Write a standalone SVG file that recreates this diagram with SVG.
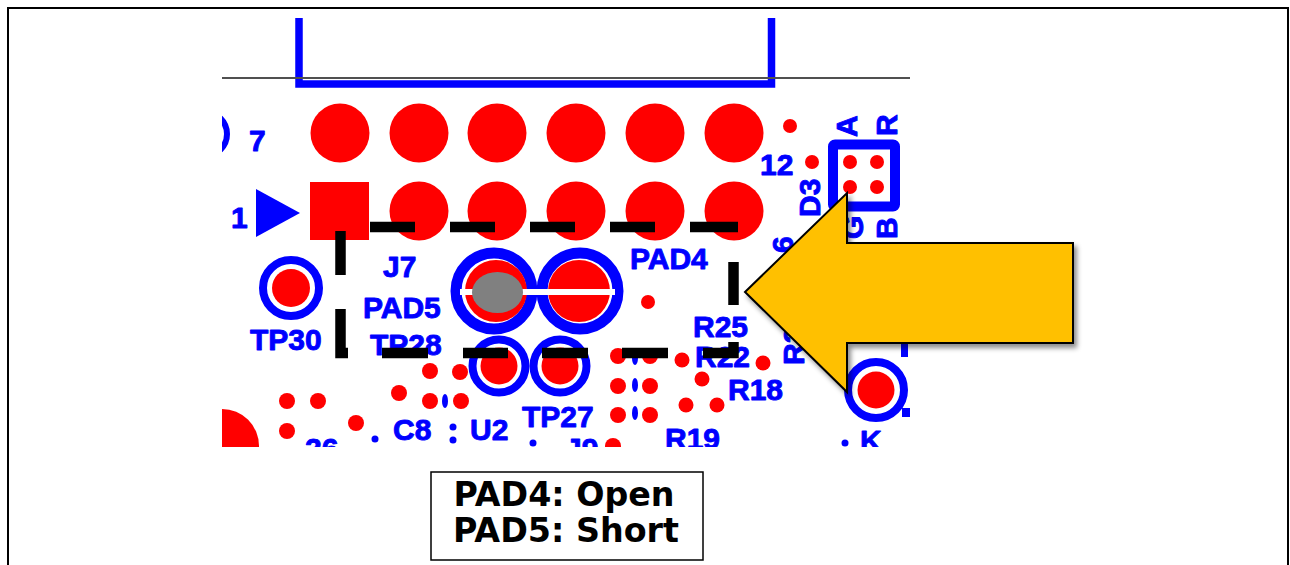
<svg xmlns="http://www.w3.org/2000/svg" width="1290" height="565" viewBox="0 0 1290 565">
<defs>
<style>
.b{fill:#0000FF}
.r{fill:#FF0000}
.ring{fill:none;stroke:#0000FF}
.lbl{font-family:"Liberation Sans",Arial,sans-serif;font-weight:bold;font-size:30px;fill:#0000FF;stroke:#0000FF;stroke-width:0.9;stroke-linejoin:round}
.dash{fill:none;stroke:#000;stroke-width:10.5;stroke-linecap:butt;stroke-linejoin:miter}
.note{font-family:"DejaVu Sans",sans-serif;font-weight:bold;font-size:33px;fill:#000}
</style>
<clipPath id="clip"><rect x="222" y="18" width="688" height="429"/></clipPath>
<filter id="sh" x="-10%" y="-10%" width="130%" height="130%">
<feDropShadow dx="3" dy="4" stdDeviation="2.5" flood-color="#000" flood-opacity="0.45"/>
</filter>
</defs>
<rect x="0" y="0" width="1290" height="565" fill="#fff"/>
<rect id="frame" x="8" y="8" width="1280" height="580" fill="none" stroke="#000" stroke-width="2"/>

<g id="pcb" clip-path="url(#clip)">
  <g id="connector-J7">
    <path d="M299,18 V84 H771.5 V18" fill="none" stroke="#0000FF" stroke-width="7.5"/>
    <line x1="222" y1="78" x2="910" y2="78" stroke="#505050" stroke-width="2"/>
    <circle cx="340" cy="133" r="29.5" class="r"/>
    <circle cx="419" cy="133" r="29.5" class="r"/>
    <circle cx="497" cy="133" r="29.5" class="r"/>
    <circle cx="576" cy="133" r="29.5" class="r"/>
    <circle cx="655" cy="133" r="29.5" class="r"/>
    <circle cx="734" cy="133" r="29.5" class="r"/>
    <rect x="310" y="182" width="59" height="58" class="r"/>
    <circle cx="419" cy="211" r="29.5" class="r"/>
    <circle cx="497" cy="211" r="29.5" class="r"/>
    <circle cx="576" cy="211" r="29.5" class="r"/>
    <circle cx="655" cy="211" r="29.5" class="r"/>
    <circle cx="734" cy="211" r="29.5" class="r"/>
    <polygon points="256,189 256,237 300,213" class="b"/>
    <circle cx="205" cy="134" r="22" class="ring" stroke-width="6"/>
    <text x="249" y="151" class="lbl" font-size="33">7</text>
    <text x="231" y="228" class="lbl" font-size="33">1</text>
    <text x="760" y="175" class="lbl">12</text>
    <text class="lbl" font-size="32" transform="translate(793,253) rotate(-90)">6</text>
    <text x="383" y="277" class="lbl">J7</text>
  </g>

  <g id="tp30">
    <circle cx="291" cy="288" r="28" class="ring" stroke-width="8"/>
    <circle cx="291" cy="288" r="19" class="r"/>
    <text x="250" y="350" class="lbl">TP30</text>
  </g>

  <g id="pad5-pad4">
    <circle cx="494" cy="291" r="38" class="ring" stroke-width="11"/>
    <circle cx="580" cy="291" r="38" class="ring" stroke-width="11"/>
    <circle cx="496" cy="291" r="31" class="r"/>
    <circle cx="579" cy="291" r="31" class="r"/>
    <rect x="460" y="289" width="155" height="6" fill="#fff"/>
    <ellipse cx="497.5" cy="292.5" rx="25.5" ry="20.5" fill="#808080"/>
    <text x="363" y="318" class="lbl">PAD5</text>
    <text x="630" y="269" class="lbl">PAD4</text>
  </g>

  <g id="tp28-tp27">
    <circle cx="499" cy="366" r="26.5" class="ring" stroke-width="8"/>
    <circle cx="560" cy="366" r="26.5" class="ring" stroke-width="8"/>
    <circle cx="499" cy="366" r="18.5" class="r"/>
    <circle cx="560" cy="366" r="18.5" class="r"/>
    <text x="370" y="355" class="lbl">TP28</text>
    <text x="522" y="427" class="lbl">TP27</text>
  </g>

  <g id="d3">
    <rect x="833" y="144.5" width="62" height="62" rx="2" fill="none" stroke="#0000FF" stroke-width="10"/>
    <circle cx="850" cy="162" r="7" class="r"/>
    <circle cx="877" cy="162" r="7" class="r"/>
    <circle cx="850" cy="187" r="7" class="r"/>
    <circle cx="877" cy="187" r="7" class="r"/>
    <circle cx="790" cy="126" r="7" class="r"/>
    <circle cx="812" cy="162" r="7" class="r"/>
    <text class="lbl" transform="translate(820,217) rotate(-90)">D3</text>
    <text class="lbl" transform="translate(857,137) rotate(-90)">A</text>
    <text class="lbl" transform="translate(897,136) rotate(-90)">R</text>
    <text class="lbl" transform="translate(897,239) rotate(-90)">B</text>
    <text class="lbl" transform="translate(863,239) rotate(-90)">G</text>
  </g>

  <g id="resistors">
    <circle cx="648" cy="302" r="7" class="r"/>
    <circle cx="618" cy="356" r="8" class="r"/>
    <circle cx="650" cy="356" r="8" class="r"/>
    <circle cx="618" cy="386" r="8" class="r"/>
    <circle cx="650" cy="386" r="8" class="r"/>
    <circle cx="618" cy="415" r="8" class="r"/>
    <circle cx="650" cy="415" r="8" class="r"/>
    <ellipse cx="635" cy="358" rx="3" ry="7" class="b"/>
    <ellipse cx="635" cy="385" rx="3" ry="7" class="b"/>
    <ellipse cx="635" cy="413" rx="3" ry="7" class="b"/>
    <circle cx="682" cy="360" r="7.5" class="r"/>
    <circle cx="702" cy="379" r="7.5" class="r"/>
    <circle cx="686" cy="405" r="7.5" class="r"/>
    <circle cx="717" cy="405" r="7.5" class="r"/>
    <circle cx="763" cy="363" r="7.5" class="r"/>
    <circle cx="613" cy="446" r="8" class="r"/>
    <text x="693" y="337" class="lbl">R25</text>
    <text x="695" y="367" class="lbl">R22</text>
    <text x="728" y="400" class="lbl">R18</text>
    <text x="665" y="449" class="lbl">R19</text>
    <text class="lbl" transform="translate(804,365) rotate(-90)">R26</text>
  </g>

  <g id="u2-c8">
    <circle cx="222" cy="446" r="37" class="r"/>
    <circle cx="287" cy="401" r="8" class="r"/>
    <circle cx="318" cy="401" r="8" class="r"/>
    <circle cx="287" cy="431" r="8" class="r"/>
    <circle cx="356" cy="423" r="8" class="r"/>
    <circle cx="399" cy="393" r="8" class="r"/>
    <circle cx="430" cy="371" r="8" class="r"/>
    <circle cx="460" cy="372" r="8" class="r"/>
    <circle cx="430" cy="401" r="8" class="r"/>
    <circle cx="461" cy="401" r="8" class="r"/>
    <ellipse cx="445" cy="401" rx="3" ry="7" class="b"/>
    <circle cx="375" cy="439" r="3.5" class="b"/>
    <circle cx="453" cy="427" r="3.5" class="b"/>
    <circle cx="453" cy="440" r="3.5" class="b"/>
    <circle cx="533" cy="443" r="3.5" class="b"/>
    <text x="393" y="440" class="lbl">C8</text>
    <text x="470" y="440" class="lbl">U2</text>
    <text x="305" y="459" class="lbl">26</text>
    <text x="565" y="459" class="lbl">J9</text>
  </g>

  <g id="tp-right">
    <circle cx="876" cy="390" r="28" class="ring" stroke-width="8"/>
    <circle cx="876" cy="390" r="18.5" class="r"/>
    <rect x="902" y="408" width="8" height="9" class="b"/>
    <rect x="901" y="343" width="7" height="14" class="b"/>
    <circle cx="845" cy="443" r="3.5" class="b"/>
    <text x="860" y="451" class="lbl">K</text>
  </g>
</g>

<g id="highlight">
  <path class="dash" d="M340.5,231 V275 M340.5,309 V353 H348 M382,353 H428 M463,353 H508 M542,353 H588 M622,353 H668 M703,353 H733.5 V342 M733.5,305 V262 M738,227 H690 M655,227 H610 M575,227 H530 M495,227 H450 M415,227 H370"/>
</g>

<g id="connectors">
  <polygon id="arrow" points="745,292 847,193 847,243 1073,243 1073,343 847,343 847,392" fill="#FFC000" stroke="#000" stroke-width="2" stroke-linejoin="miter" filter="url(#sh)"/>
</g>

<g id="label">
  <rect x="431" y="472" width="272" height="88" fill="#fff" stroke="#000" stroke-width="1.5"/>
  <text x="564" y="506" class="note" text-anchor="middle" textLength="221" lengthAdjust="spacingAndGlyphs">PAD4: Open</text>
  <text x="566" y="542" class="note" text-anchor="middle" textLength="226" lengthAdjust="spacingAndGlyphs">PAD5: Short</text>
</g>
</svg>
